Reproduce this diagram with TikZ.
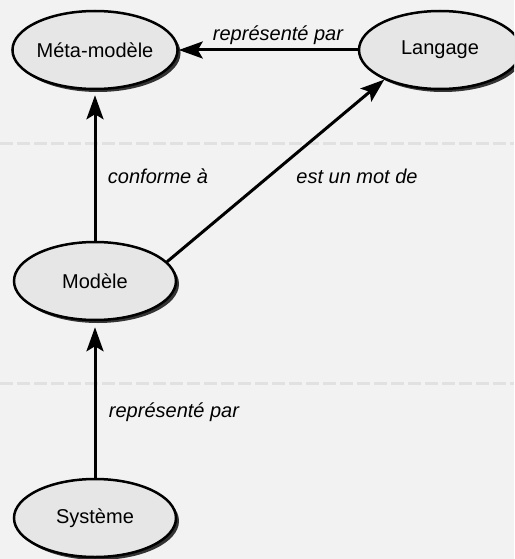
\documentclass[tikz,border=0pt]{standalone}
\usepackage{fontspec}
\setmainfont{Liberation Sans}
\usetikzlibrary{arrows.meta,shapes.geometric,shadows}
\definecolor{bgcol}{HTML}{F2F2F2}
\definecolor{nodecol}{HTML}{E6E6E6}
\definecolor{sepcol}{HTML}{E1E1E1}
\tikzset{
  concept/.style={ellipse, draw=black, line width=2.5pt, fill=nodecol,
    minimum width=162pt, minimum height=78pt, inner sep=0pt,
    font=\fontsize{20}{24}\selectfont,
    drop shadow={shadow xshift=3pt, shadow yshift=-3pt, fill=black!80, opacity=1}},
  rel/.style={font=\fontsize{20}{24}\selectfont\itshape},
  link/.style={line width=3pt, -{Stealth[length=24pt,width=17pt,inset=5pt]}},
  sep/.style={sepcol, line width=3pt, dash pattern=on 13pt off 4pt}
}
\begin{document}
\begin{tikzpicture}[x=1pt,y=-1pt]
      \fill[bgcol] (0,0) rectangle (514,559);
      \useasboundingbox (0,0) rectangle (514,559);
      \clip (0,0) rectangle (514,559);
      \draw[sep] (0,143) -- (514,143);
      \draw[sep] (0,383) -- (514,383);
      \draw
        (95,50) node[concept] (meta){Méta-modèle}
        (440,50) node[concept] (langage){Langage}
        (95,281) node[concept] (modele){Modèle}
        (95,518) node[concept] (systeme){Système};
      \node[rel] (rep1) at (278,35) {représenté par};
      \node[rel] (conf) at (158,176) {conforme à};
      \node[rel] (mot) at (357,176) {est un mot de};
      \node[rel] (rep2) at (174,412) {représenté par};
      \begin{scope}[link]
        \draw[shorten >=5pt] (modele) to (meta);
        \draw (langage) to (meta);
        \draw (modele.15) to (langage.208);
        \draw[shorten >=6pt] (systeme) to (modele);
      \end{scope}
    \end{tikzpicture}
\end{document}
